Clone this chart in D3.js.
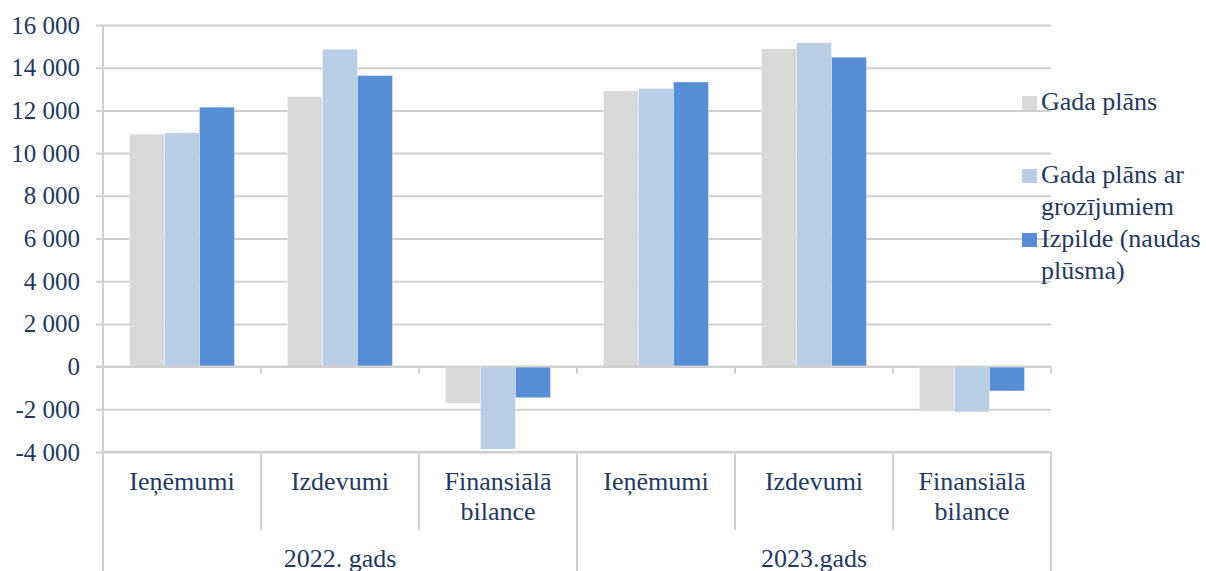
<!DOCTYPE html>
<html lang="lv">
<head>
<meta charset="UTF-8">
<title>Budžeta izpilde</title>
<script src="https://d3js.org/d3.v7.min.js"></script>
<style>
  body { margin: 0; background: #fff; overflow: hidden; }
  svg text { font-family: "Liberation Serif", "Times New Roman", serif; fill: #1f3864; }
</style>
</head>
<body>
<div id="chart"></div>
<script>
// data
const years = ["2022. gads", "2023.gads"];
const categories = ["Ieņēmumi", "Izdevumi", "Finansiālā bilance"];
const seriesNames = ["Gada plāns", "Gada plāns ar grozījumiem", "Izpilde (naudas plūsma)"];
const seriesColors = ["#d9d9d9", "#b9cde5", "#558ed5"];
// values per year, category order as above
const gadaPlans = [10890, 12640, -1715, 12920, 14890, -1995];
const gadaPlansGroz = [10950, 14860, -3870, 13020, 15170, -2125];
const izpilde = [12150, 13630, -1455, 13330, 14490, -1140];
const yTicks = [-4000, -2000, 0, 2000, 4000, 6000, 8000, 10000, 12000, 14000, 16000];

const legendLines = [["Gada plāns"], ["Gada plāns ar", "grozījumiem"], ["Izpilde (naudas", "plūsma)"]];

const W = 1206, H = 571;
const plotL = 103, plotR = 1051, plotT = 25, plotB = 452;
const gridColor = "#d0d0d0";
const serif = '"Liberation Serif", "Times New Roman", serif';

const svg = d3.select("#chart").append("svg")
    .attr("width", W).attr("height", H);

const rows = [];
years.forEach((yr, yi) => categories.forEach((c, ci) => {
  const i = yi * categories.length + ci;
  rows.push({ key: yr + "|" + c, year: yr, cat: c, values: [gadaPlans[i], gadaPlansGroz[i], izpilde[i]] });
}));

const x0 = d3.scaleBand().domain(rows.map(d => d.key)).range([plotL, plotR]).padding(0);
const bw = x0.bandwidth();
const x1 = d3.scaleBand().domain(d3.range(3)).range([bw * 0.168, bw * 0.832]).padding(0);
const y = d3.scaleLinear().domain([-4000, 16000]).range([plotB, plotT]);

const loc = d3.formatLocale({ decimal: ",", thousands: " ", grouping: [3], currency: ["", ""], minus: "-" });
const fmt = loc.format(",d");

// gridlines + y ticks
const yAxis = d3.axisLeft(y).tickValues(yTicks).tickFormat(fmt).tickSize(-(plotR - plotL)).tickPadding(23);
const ga = svg.append("g").attr("transform", `translate(${plotL},0)`).call(yAxis);
ga.select(".domain").remove();
ga.selectAll(".tick line").attr("stroke", gridColor).attr("stroke-width", 2).attr("x1", -7);
ga.selectAll(".tick text").attr("fill", "#1f3864")
    .style("font-family", serif).style("font-size", "25px");

// bars
const groups = svg.append("g").selectAll("g").data(rows).join("g")
    .attr("transform", d => `translate(${x0(d.key)},0)`);
groups.selectAll("rect").data(d => d.values.map((v, i) => ({ v, i }))).join("rect")
    .attr("x", d => x1(d.i))
    .attr("width", x1.bandwidth())
    .attr("y", d => y(Math.max(0, d.v)))
    .attr("height", d => Math.abs(y(d.v) - y(0)))
    .attr("fill", d => seriesColors[d.i])
    .attr("stroke", "#ffffff").attr("stroke-opacity", 0.35).attr("stroke-width", 1);

// axis structure
const axisG = svg.append("g").attr("stroke", gridColor).attr("stroke-width", 2);
axisG.append("line").attr("x1", plotL).attr("x2", plotL).attr("y1", plotT).attr("y2", H);
axisG.append("line").attr("x1", plotL - 7).attr("x2", plotR).attr("y1", y(0)).attr("y2", y(0));
axisG.append("line").attr("x1", plotL).attr("x2", plotR).attr("y1", plotB).attr("y2", plotB);
rows.forEach((d, i) => {
  const xr = x0(d.key) + bw;
  axisG.append("line").attr("x1", xr).attr("x2", xr).attr("y1", y(0)).attr("y2", y(0) + 7);
  const yearEnd = (i + 1) % categories.length === 0;
  axisG.append("line").attr("x1", xr).attr("x2", xr).attr("y1", plotB).attr("y2", yearEnd ? H : 530);
});

// category labels
const catLines = { "Ieņēmumi": ["Ieņēmumi"], "Izdevumi": ["Izdevumi"], "Finansiālā bilance": ["Finansiālā", "bilance"] };
rows.forEach(d => {
  const t = svg.append("text").attr("text-anchor", "middle").style("font-size", "26px")
      .attr("x", x0(d.key) + bw / 2).attr("y", 490);
  catLines[d.cat].forEach((ln, k) => t.append("tspan").attr("x", x0(d.key) + bw / 2).attr("dy", k ? 30 : 0).text(ln));
});

// year labels
years.forEach((yr, yi) => {
  const a = x0(rows[yi * 3].key), b = x0(rows[yi * 3 + 2].key) + bw;
  svg.append("text").attr("text-anchor", "middle").style("font-size", "26px")
      .attr("x", (a + b) / 2).attr("y", 567).text(yr);
});

// legend
const legY = [110, 183, 247];
const leg = svg.append("g");
seriesNames.forEach((s, i) => {
  leg.append("rect").attr("x", 1022).attr("y", legY[i] - 14).attr("width", 15).attr("height", 14)
      .attr("fill", seriesColors[i]);
  const t = leg.append("text").attr("x", 1041).attr("y", legY[i]).style("font-size", "26px");
  legendLines[i].forEach((ln, k) => t.append("tspan").attr("x", 1041).attr("dy", k ? 32 : 0).text(ln));
});
</script>
</body>
</html>
